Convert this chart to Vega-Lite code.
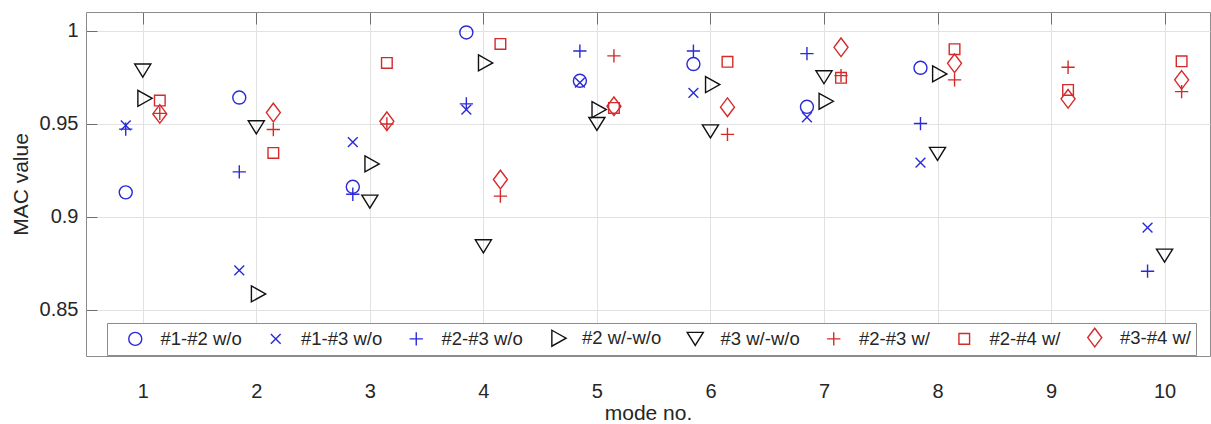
{
  "$schema": "https://vega.github.io/schema/vega-lite/v6.json",
  "width": 1124,
  "height": 344,
  "autosize": {"type": "none"},
  "padding": {"left": 86, "top": 12, "right": 1, "bottom": 68},
  "config": {
    "font": "Liberation Sans",
    "view": {"stroke": "#8c8c8c", "strokeWidth": 1},
    "axis": {
      "labelFont": "Liberation Sans", "titleFont": "Liberation Sans",
      "labelColor": "#262626", "titleColor": "#262626", "titleFontWeight": "normal",
      "gridColor": "#e2e2e2", "gridOpacity": 1, "tickColor": "#6e6e6e", "domain": false,
      "labelFontSize": 20, "titleFontSize": 21
    },
    "legend": {
      "orient": "none", "legendX": 21, "legendY": 311, "direction": "horizontal",
      "columns": 8, "gridAlign": "each", "columnPadding": 10.5, "labelOffset": 16, "symbolOffset": 14,
      "symbolSize": 196, "symbolStrokeWidth": 1.5, "labelFontSize": 18.5,
      "labelFont": "Liberation Sans", "labelColor": "#262626",
      "padding": 5, "strokeColor": "#8c8c8c", "fillColor": "white"
    }
  },
  "data": {
    "values": [
      {"series": "#1-#2 w/o", "mode": 1, "x": 0.85, "value": 0.913},
      {"series": "#1-#2 w/o", "mode": 2, "x": 1.85, "value": 0.964},
      {"series": "#1-#2 w/o", "mode": 3, "x": 2.85, "value": 0.916},
      {"series": "#1-#2 w/o", "mode": 4, "x": 3.85, "value": 0.999},
      {"series": "#1-#2 w/o", "mode": 5, "x": 4.85, "value": 0.973},
      {"series": "#1-#2 w/o", "mode": 6, "x": 5.85, "value": 0.982},
      {"series": "#1-#2 w/o", "mode": 7, "x": 6.85, "value": 0.959},
      {"series": "#1-#2 w/o", "mode": 8, "x": 7.85, "value": 0.980},
      {"series": "#1-#3 w/o", "mode": 1, "x": 0.85, "value": 0.949},
      {"series": "#1-#3 w/o", "mode": 2, "x": 1.85, "value": 0.871},
      {"series": "#1-#3 w/o", "mode": 3, "x": 2.85, "value": 0.940},
      {"series": "#1-#3 w/o", "mode": 4, "x": 3.85, "value": 0.9575},
      {"series": "#1-#3 w/o", "mode": 5, "x": 4.85, "value": 0.972},
      {"series": "#1-#3 w/o", "mode": 6, "x": 5.85, "value": 0.9665},
      {"series": "#1-#3 w/o", "mode": 7, "x": 6.85, "value": 0.9534},
      {"series": "#1-#3 w/o", "mode": 8, "x": 7.85, "value": 0.929},
      {"series": "#1-#3 w/o", "mode": 10, "x": 9.85, "value": 0.894},
      {"series": "#2-#3 w/o", "mode": 1, "x": 0.85, "value": 0.947},
      {"series": "#2-#3 w/o", "mode": 2, "x": 1.85, "value": 0.924},
      {"series": "#2-#3 w/o", "mode": 3, "x": 2.85, "value": 0.912},
      {"series": "#2-#3 w/o", "mode": 4, "x": 3.85, "value": 0.9606},
      {"series": "#2-#3 w/o", "mode": 5, "x": 4.85, "value": 0.989},
      {"series": "#2-#3 w/o", "mode": 6, "x": 5.85, "value": 0.989},
      {"series": "#2-#3 w/o", "mode": 7, "x": 6.85, "value": 0.9876},
      {"series": "#2-#3 w/o", "mode": 8, "x": 7.85, "value": 0.950},
      {"series": "#2-#3 w/o", "mode": 10, "x": 9.85, "value": 0.8706},
      {"series": "#2 w/-w/o", "mode": 1, "x": 1, "value": 0.9636},
      {"series": "#2 w/-w/o", "mode": 2, "x": 2, "value": 0.8584},
      {"series": "#2 w/-w/o", "mode": 3, "x": 3, "value": 0.9283},
      {"series": "#2 w/-w/o", "mode": 4, "x": 4, "value": 0.9826},
      {"series": "#2 w/-w/o", "mode": 5, "x": 5, "value": 0.9575},
      {"series": "#2 w/-w/o", "mode": 6, "x": 6, "value": 0.971},
      {"series": "#2 w/-w/o", "mode": 7, "x": 7, "value": 0.962},
      {"series": "#2 w/-w/o", "mode": 8, "x": 8, "value": 0.9767},
      {"series": "#3 w/-w/o", "mode": 1, "x": 1, "value": 0.9785},
      {"series": "#3 w/-w/o", "mode": 2, "x": 2, "value": 0.948},
      {"series": "#3 w/-w/o", "mode": 3, "x": 3, "value": 0.908},
      {"series": "#3 w/-w/o", "mode": 4, "x": 4, "value": 0.884},
      {"series": "#3 w/-w/o", "mode": 5, "x": 5, "value": 0.9498},
      {"series": "#3 w/-w/o", "mode": 6, "x": 6, "value": 0.9458},
      {"series": "#3 w/-w/o", "mode": 7, "x": 7, "value": 0.9749},
      {"series": "#3 w/-w/o", "mode": 8, "x": 8, "value": 0.9337},
      {"series": "#3 w/-w/o", "mode": 10, "x": 10, "value": 0.879},
      {"series": "#2-#3 w/", "mode": 1, "x": 1.15, "value": 0.9555},
      {"series": "#2-#3 w/", "mode": 2, "x": 2.15, "value": 0.9468},
      {"series": "#2-#3 w/", "mode": 3, "x": 3.15, "value": 0.9498},
      {"series": "#2-#3 w/", "mode": 4, "x": 4.15, "value": 0.911},
      {"series": "#2-#3 w/", "mode": 5, "x": 5.15, "value": 0.9864},
      {"series": "#2-#3 w/", "mode": 6, "x": 6.15, "value": 0.9442},
      {"series": "#2-#3 w/", "mode": 7, "x": 7.15, "value": 0.9758},
      {"series": "#2-#3 w/", "mode": 8, "x": 8.15, "value": 0.9735},
      {"series": "#2-#3 w/", "mode": 9, "x": 9.15, "value": 0.9803},
      {"series": "#2-#3 w/", "mode": 10, "x": 10.15, "value": 0.9672},
      {"series": "#2-#4 w/", "mode": 1, "x": 1.15, "value": 0.9624},
      {"series": "#2-#4 w/", "mode": 2, "x": 2.15, "value": 0.9342},
      {"series": "#2-#4 w/", "mode": 3, "x": 3.15, "value": 0.9826},
      {"series": "#2-#4 w/", "mode": 4, "x": 4.15, "value": 0.9928},
      {"series": "#2-#4 w/", "mode": 5, "x": 5.15, "value": 0.9584},
      {"series": "#2-#4 w/", "mode": 6, "x": 6.15, "value": 0.9832},
      {"series": "#2-#4 w/", "mode": 7, "x": 7.15, "value": 0.9746},
      {"series": "#2-#4 w/", "mode": 8, "x": 8.15, "value": 0.990},
      {"series": "#2-#4 w/", "mode": 9, "x": 9.15, "value": 0.9681},
      {"series": "#2-#4 w/", "mode": 10, "x": 10.15, "value": 0.9835},
      {"series": "#3-#4 w/", "mode": 1, "x": 1.15, "value": 0.9552},
      {"series": "#3-#4 w/", "mode": 2, "x": 2.15, "value": 0.9559},
      {"series": "#3-#4 w/", "mode": 3, "x": 3.15, "value": 0.9512},
      {"series": "#3-#4 w/", "mode": 4, "x": 4.15, "value": 0.9199},
      {"series": "#3-#4 w/", "mode": 5, "x": 5.15, "value": 0.9593},
      {"series": "#3-#4 w/", "mode": 6, "x": 6.15, "value": 0.9588},
      {"series": "#3-#4 w/", "mode": 7, "x": 7.15, "value": 0.991},
      {"series": "#3-#4 w/", "mode": 8, "x": 8.15, "value": 0.9824},
      {"series": "#3-#4 w/", "mode": 9, "x": 9.15, "value": 0.9633},
      {"series": "#3-#4 w/", "mode": 10, "x": 10.15, "value": 0.9735}
    ]
  },
  "layer": [
    {
      "mark": {"type": "point", "filled": false, "size": 196, "opacity": 1},
      "encoding": {
        "x": {
          "field": "x", "type": "quantitative",
          "scale": {"domain": [0.5, 10.4], "nice": false, "zero": false},
          "axis": {"orient": "bottom", "values": [1, 2, 3, 4, 5, 6, 7, 8, 9, 10], "title": "mode no.", "tickSize": -12, "labelPadding": 37, "titlePadding": 1, "grid": true}
        },
        "y": {
          "field": "value", "type": "quantitative",
          "scale": {"domain": [0.825, 1.01], "nice": false, "zero": false},
          "axis": {"values": [0.85, 0.9, 0.95, 1], "format": "~g", "title": "MAC value", "tickSize": -11, "labelPadding": 19, "titlePadding": 8, "grid": true}
        },
        "color": {
          "field": "series", "type": "nominal",
          "scale": {
            "domain": ["#1-#2 w/o", "#1-#3 w/o", "#2-#3 w/o", "#2 w/-w/o", "#3 w/-w/o", "#2-#3 w/", "#2-#4 w/", "#3-#4 w/"],
            "range": ["#2a2ad8", "#2a2ad8", "#2a2ad8", "#111111", "#111111", "#d42a2a", "#d42a2a", "#d42a2a"]
          },
          "legend": {"title": null}
        },
        "strokeWidth": {
          "field": "series", "type": "nominal",
          "scale": {
            "domain": ["#1-#2 w/o", "#1-#3 w/o", "#2-#3 w/o", "#2 w/-w/o", "#3 w/-w/o", "#2-#3 w/", "#2-#4 w/", "#3-#4 w/"],
            "range": [1.4, 1.4, 1.4, 2, 2, 1.4, 1.3, 1.4]
          },
          "legend": {"title": null}
        },
        "shape": {
          "field": "series", "type": "nominal",
          "scale": {
            "domain": ["#1-#2 w/o", "#1-#3 w/o", "#2-#3 w/o", "#2 w/-w/o", "#3 w/-w/o", "#2-#3 w/", "#2-#4 w/", "#3-#4 w/"],
            "range": [
              "M0.93,0A0.93,0.93,0,1,1,-0.93,0A0.93,0.93,0,1,1,0.93,0Z",
              "M-0.7,-0.7L0.7,0.7M-0.7,0.7L0.7,-0.7",
              "M-0.95,0L0.95,0M0,-0.95L0,0.95",
              "M-0.7,-1.14L1.34,0L-0.7,1.14Z",
              "M-1.15,-0.93L1.15,-0.93L0,0.93Z",
              "M-0.95,0L0.95,0M0,-0.95L0,0.95",
              "M-0.76,-0.76L0.76,-0.76L0.76,0.76L-0.76,0.76Z",
              "M0,-1.33L1,0L0,1.33L-1,0Z"
            ]
          },
          "legend": {"title": null}
        }
      }
    },
    {
      "mark": {"type": "point", "opacity": 0},
      "encoding": {
        "x": {"field": "x", "type": "quantitative", "axis": {"orient": "top", "values": [1, 2, 3, 4, 5, 6, 7, 8, 9, 10], "labels": false, "title": null, "tickSize": -12, "grid": false}},
        "y": {"field": "value", "type": "quantitative"}
      }
    }
  ]
}
